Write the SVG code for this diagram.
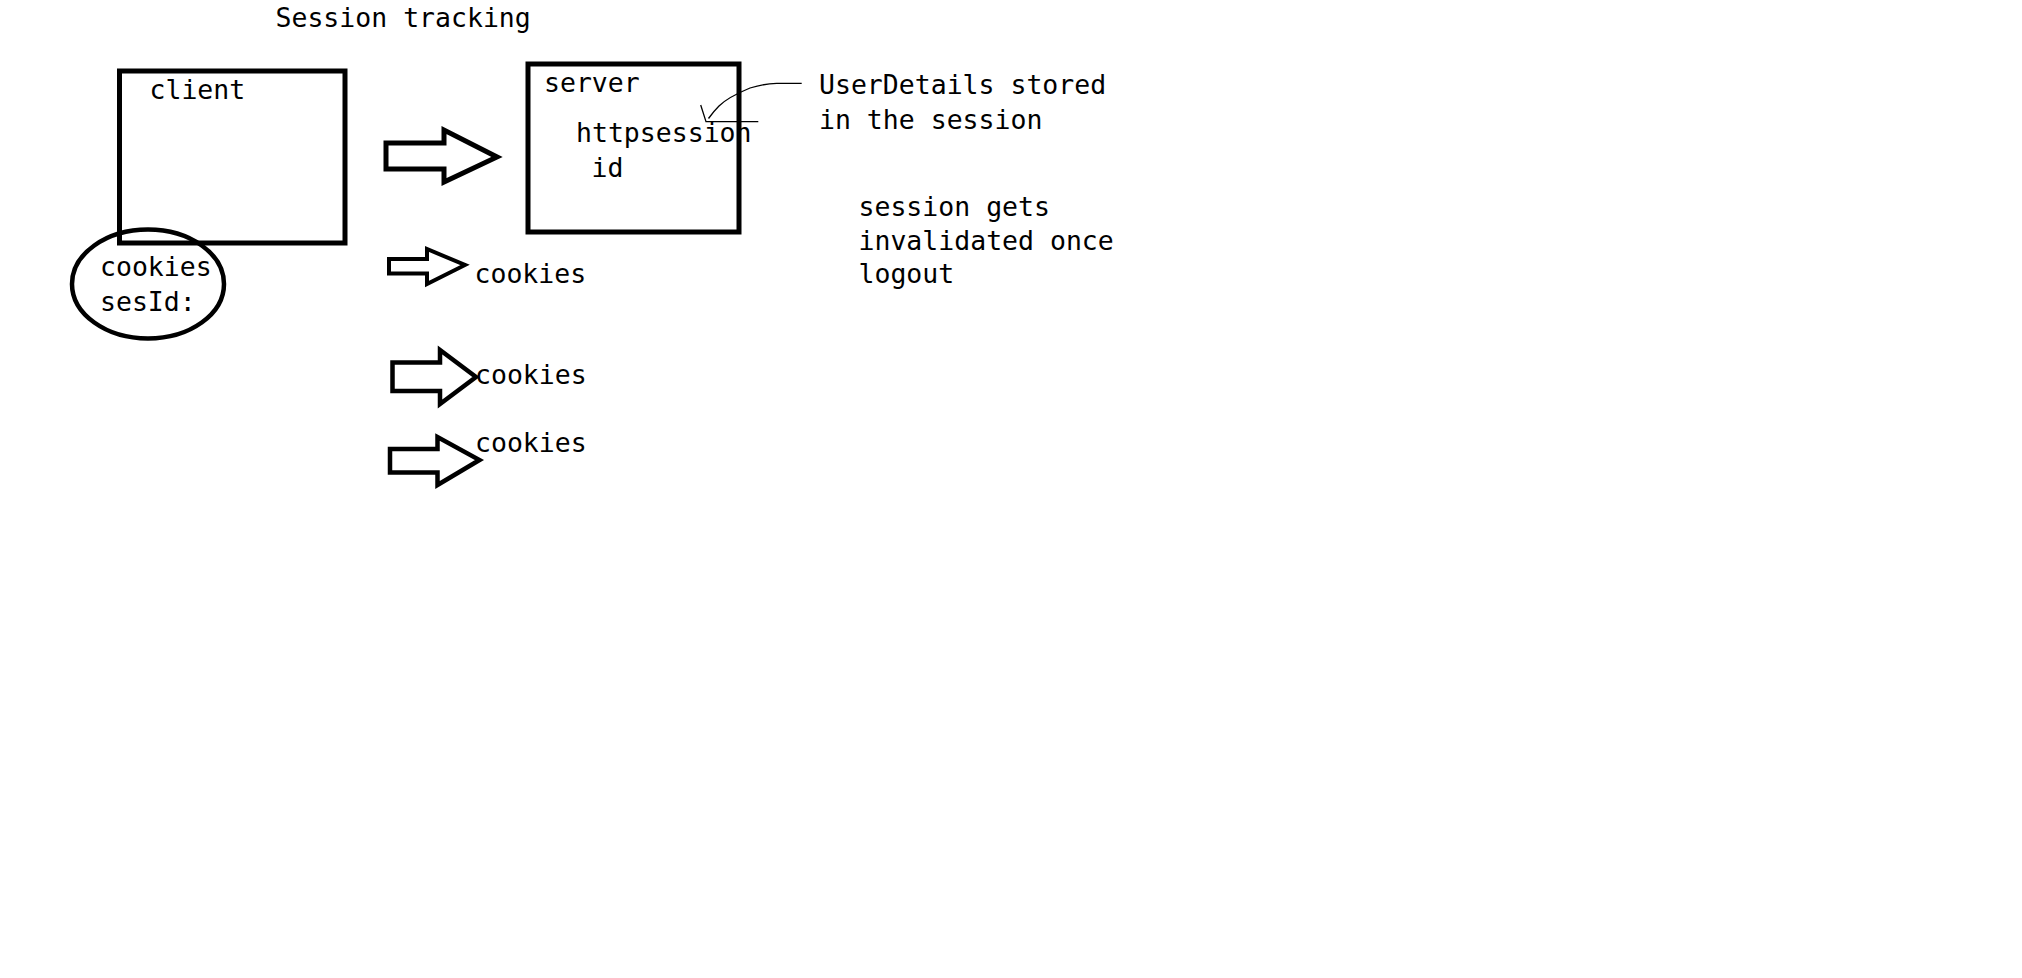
<svg xmlns="http://www.w3.org/2000/svg" width="2022" height="978" viewBox="0 0 2022 978">
  <style>
    text { font-family: "DejaVu Sans Mono", "Liberation Mono", monospace; font-size: 26.5px; fill: #000; }
    .box { fill: none; stroke: #000; stroke-width: 5; }
    .blk { fill: #fff; stroke: #000; stroke-linejoin: miter; }
    .thin { fill: none; stroke: #000; stroke-width: 1.3; }
  </style>
  <rect width="2022" height="978" fill="#fff"/>
  <g id="title">
    <text x="275.5" y="27">Session tracking</text>
  </g>
  <g id="client">
    <rect class="box" x="119.5" y="71" width="225.5" height="172"/>
    <text x="149.5" y="99">client</text>
  </g>
  <g id="cookies-client">
    <ellipse cx="148" cy="284" rx="76" ry="54.5" fill="none" stroke="#000" stroke-width="4.5"/>
    <text x="100" y="276">cookies</text>
    <text x="100" y="310.5">sesId:</text>
  </g>
  <g id="server">
    <rect class="box" x="528" y="64" width="211" height="168"/>
    <text x="544" y="91.5">server</text>
    <text x="576" y="141.5">httpsession</text>
    <text x="591.5" y="176.5">id</text>
  </g>
  <g id="note-userdetails">
    <text x="819" y="94">UserDetails stored</text>
    <text x="819" y="128.5">in the session</text>
  </g>
  <g id="note-invalidate">
    <text x="858.5" y="215.5">session gets</text>
    <text x="858.5" y="249.5">invalidated once</text>
    <text x="858.5" y="283">logout</text>
  </g>
  <g id="cookies-1"><text x="474.5" y="282.5">cookies</text></g>
  <g id="cookies-2"><text x="475" y="384">cookies</text></g>
  <g id="cookies-3"><text x="475" y="451.5">cookies</text></g>
  <g id="connectors">
    <polygon class="blk" stroke-width="5" points="386,143 444,143 444,130 497,157 444,182 444,169 386,169"/>
    <polygon class="blk" stroke-width="4" points="389,259 427,259 427,249 465,265 427,284 427,273.5 389,273.5"/>
    <polygon class="blk" stroke-width="4.5" points="392.5,362.5 440,362.5 440,350 476,377 440,404 440,391 392.5,391"/>
    <polygon class="blk" stroke-width="4.5" points="390,449 437.5,449 437.5,437 479.5,460 437.5,485 437.5,472.5 390,472.5"/>
    <path class="thin" d="M801.7,83.3 L776.7,83.3 C768,83.5 760,85 750,88 C738,93 725,100 719,106 C714,111 711,115 708.5,118.5"/>
    <path class="thin" d="M700.7,105 L706,121.7 L758.3,121.7"/>
  </g>
</svg>
